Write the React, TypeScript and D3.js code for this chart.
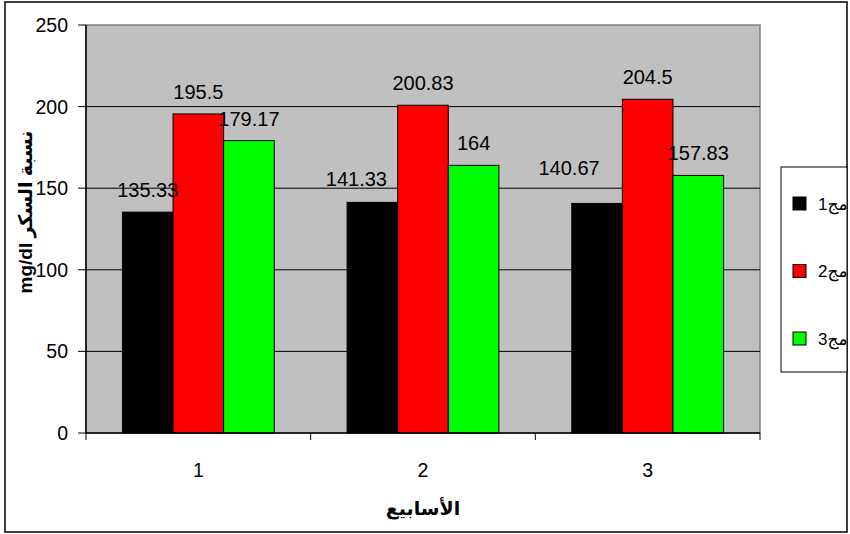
import React from "react";
import * as d3 from "d3";

const weeks = ["1", "2", "3"];
const seriesNames = ["مج1", "مج2", "مج3"];
const seriesColors = ["#000000", "#FF0000", "#00FF00"];
const group1 = [135.33, 141.33, 140.67];
const group2 = [195.5, 200.83, 204.5];
const group3 = [179.17, 164, 157.83];
const yTicks = [0, 50, 100, 150, 200, 250];
const yTitle = "mg/dl نسبة السكر";
const xTitle = "الأسابيع";

// label nudges (dx, dy) per week for each series — layout only
const labelNudge = [
  [[0, 0], [-16, -1], [-28, -13]],
  [[0, 0], [0, 0], [0, 0]],
  [[0, 0], [0, 0], [0, 0]],
];

const FONT = "'Liberation Sans', Arial, 'DejaVu Sans', sans-serif";

export default function App() {
  const W = 850, H = 534;
  const left = 86, right = 760, top = 25, bottom = 433;
  const values = [group1, group2, group3];

  const x = d3.scaleBand<string>().domain(weeks).range([left, right]).padding(0);
  const xi = d3.scaleBand<string>().domain(seriesNames).range([0, x.bandwidth()]).paddingInner(0).paddingOuter(0.72);
  const y = d3.scaleLinear().domain([0, 250]).range([bottom, top]);

  return (
    <svg width={W} height={H} style={{ position: "absolute", left: 0, top: 0, background: "#fff" }} fontFamily={FONT}>
      <rect x={5} y={2} width={842} height={530} fill="#fff" stroke="#000" strokeWidth={1.5} />
      <rect x={left} y={top} width={right - left} height={bottom - top} fill="#C0C0C0" stroke="#808080" strokeWidth={1.5} />
      {yTicks.filter((t) => t > 0 && t < 250).map((t) => (
        <line key={"g" + t} x1={left} x2={right} y1={y(t)} y2={y(t)} stroke="#000" strokeWidth={1} />
      ))}
      {values.map((vals, si) =>
        weeks.map((w, wi) => {
          const bx = (x(w) as number) + (xi(seriesNames[si]) as number);
          const v = vals[wi];
          return (
            <rect key={`b${si}-${wi}`} x={bx} y={y(v)} width={xi.bandwidth()} height={bottom - y(v)}
              fill={seriesColors[si]} stroke="#000" strokeWidth={1} />
          );
        })
      )}
      {values.map((vals, si) =>
        weeks.map((w, wi) => {
          const bx = (x(w) as number) + (xi(seriesNames[si]) as number) + xi.bandwidth() / 2;
          const v = vals[wi];
          const [dx, dy] = labelNudge[si][wi];
          return (
            <text key={`l${si}-${wi}`} x={bx + dx} y={y(v) - 15 + dy} textAnchor="middle" fontSize={20} fill="#000">
              {String(v)}
            </text>
          );
        })
      )}
      {/* axes */}
      <line x1={left} x2={left} y1={top} y2={bottom} stroke="#000" strokeWidth={1.5} />
      <line x1={left} x2={right} y1={bottom} y2={bottom} stroke="#000" strokeWidth={1.5} />
      {yTicks.map((t) => (
        <g key={"yt" + t}>
          <line x1={left - 8} x2={left} y1={y(t)} y2={y(t)} stroke="#000" strokeWidth={1} />
          <text x={left - 18} y={y(t)} dy="0.36em" textAnchor="end" fontSize={19.5}>{t}</text>
        </g>
      ))}
      {[left, ...weeks.map((w) => (x(w) as number) + x.bandwidth())].map((px, i) => (
        <line key={"xt" + i} x1={px} x2={px} y1={bottom} y2={bottom + 7} stroke="#000" strokeWidth={1} />
      ))}
      {weeks.map((w) => (
        <text key={"xl" + w} x={(x(w) as number) + x.bandwidth() / 2} y={477} textAnchor="middle" fontSize={19.5}>{w}</text>
      ))}
      <text x={(left + right) / 2} y={515} textAnchor="middle" fontSize={19} fontWeight="bold">{xTitle}</text>
      <text transform={`translate(32, 212) rotate(-90)`} textAnchor="middle" fontSize={19} fontWeight="bold">{yTitle}</text>
      {/* legend */}
      <rect x={781} y={167} width={66} height={205} fill="#fff" stroke="#000" strokeWidth={1} />
      {seriesNames.map((n, i) => (
        <g key={"lg" + i}>
          <rect x={793} y={197 + i * 67.5} width={13} height={13} fill={seriesColors[i]} stroke="#000" strokeWidth={1} />
          <text x={818} y={203.5 + i * 67.5} dy="0.36em" fontSize={17}>{n}</text>
        </g>
      ))}
    </svg>
  );
}
